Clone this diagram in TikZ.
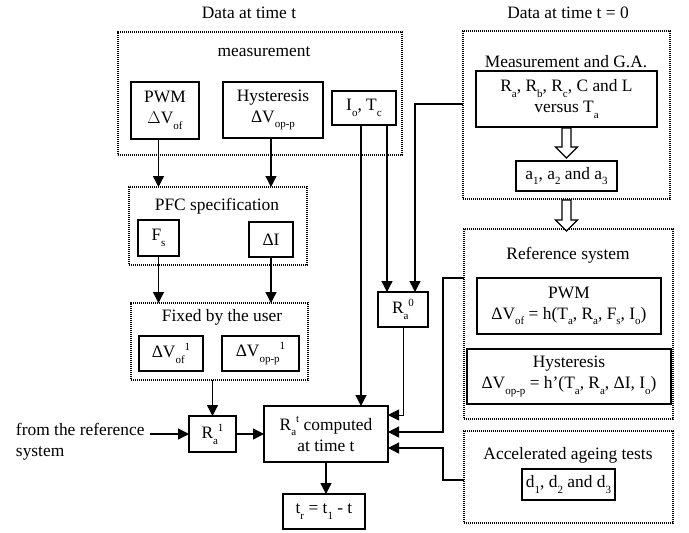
\documentclass[tikz,border=0pt]{standalone}
\usepackage{fontspec}
\setmainfont{Liberation Serif}
\usetikzlibrary{arrows.meta,calc}
\newcommand\dn[1]{\raisebox{-0.32em}{\fontsize{11}{11}\selectfont #1}}
\newcommand\up[1]{\raisebox{0.42em}{\fontsize{11}{11}\selectfont #1}}
\newcommand\hollowarrow[3]{%
  \draw[hollow] ({#1-4.5},{#2}) -- ({#1+4.5},{#2}) -- ({#1+4.5},{#3-11}) -- ({#1+11},{#3-11})
    -- ({#1},{#3}) -- ({#1-11},{#3-11}) -- ({#1-4.5},{#3-11}) -- cycle;}
\begin{document}
\begin{tikzpicture}[x=1pt,y=-1pt,
  every node/.style={font=\fontsize{17.4}{21}\selectfont, inner sep=0pt, outer sep=0pt},
  box/.style={draw, line width=1.3pt, align=center},
  grp/.style={draw, line width=1.3pt, dash pattern=on 1.1pt off 0.9pt},
  lbl/.style={align=center},
  arr/.style={line width=1.3pt, -{Triangle[length=11pt,width=11pt]}},
  tharr/.style={line width=0.9pt, -{Triangle[length=11pt,width=11pt]}},
  hollow/.style={draw, line width=1.1pt, fill=white, line join=miter}]
\useasboundingbox (0,0) rectangle (689,533);

% titles
\node[lbl] (t1) at (249,13) {Data at time t};
\node[lbl] (t2) at (568,13) {Data at time t = 0};

% left groups
\node[grp, minimum width=284pt, minimum height=123pt] (meas) at (260,93.5) {};
\node[lbl] (measlbl) at (264,52) {measurement};
\node[box, minimum width=68pt, minimum height=57pt] (pwm) at (165,110.5) {PWM\\$\Delta$V\dn{of}};
\node[box, minimum width=100pt, minimum height=56pt] (hyst) at (273,110) {Hysteresis\\ΔV\dn{op-p}};
\node[box, minimum width=64pt, minimum height=34pt] (iotc) at (364,108) {I\dn{o}, T\dn{c}};

\node[grp, minimum width=178pt, minimum height=78pt] (pfc) at (218,226) {};
\node[lbl] (pfclbl) at (217,206) {PFC specification};
\node[box, minimum width=41pt, minimum height=36pt] (fs) at (158.5,238) {F\dn{s}};
\node[box, minimum width=44pt, minimum height=35pt] (dI) at (271,239.5) {ΔI};

\node[grp, minimum width=177pt, minimum height=77pt] (fixed) at (219.5,341.5) {};
\node[lbl] (fixedlbl) at (222,317) {Fixed by the user};
\node[box, minimum width=64pt, minimum height=35pt] (v1) at (171,353.5) {ΔV\dn{of}\up{1}};
\node[box, minimum width=77pt, minimum height=35pt] (v2) at (260.5,353.5) {ΔV\dn{op-p}\up{1}};

\node[box, minimum width=47pt, minimum height=36pt] (ra1) at (212.5,434) {R\dn{a}\up{1}};
\node[lbl, anchor=west, align=left] (fromref) at (16,442) {from the reference\\system};
\node[box, minimum width=124pt, minimum height=56pt] (rat) at (326,434) {R\dn{a}\up{t} computed\\at time t};
\node[box, minimum width=82pt, minimum height=35pt] (tr) at (324,511.5) {t\dn{r} = t\dn{1} - t};
\node[box, minimum width=50pt, minimum height=35pt] (ra0) at (403,309.5) {R\dn{a}\up{0}};

% right groups
\node[grp, minimum width=207pt, minimum height=168pt] (mga) at (566.5,115) {};
\node[lbl] (mgalbl) at (566,62) {Measurement and G.A.};
\node[box, minimum width=181pt, minimum height=56pt] (rarb) at (566.5,99) {R\dn{a}, R\dn{b}, R\dn{c}, C and L\\versus T\dn{a}};
\node[box, minimum width=101pt, minimum height=30pt] (abox) at (566.5,176) {a\dn{1}, a\dn{2} and a\dn{3}};

\node[grp, minimum width=209pt, minimum height=190pt] (ref) at (568.5,324) {};
\node[lbl] (reflbl) at (568,255) {Reference system};
\node[box, minimum width=184pt, minimum height=56pt] (pwm2) at (569,306) {PWM\\ΔV\dn{of} = h(T\dn{a}, R\dn{a}, F\dn{s}, I\dn{o})};
\node[box, minimum width=204pt, minimum height=55pt] (hyst2) at (569,376.5) {Hysteresis\\ΔV\dn{op-p} = h’(T\dn{a}, R\dn{a}, ΔI, I\dn{o})};

\node[grp, minimum width=209pt, minimum height=92pt] (acc) at (568.5,477) {};
\node[lbl] (acclbl) at (568,455) {Accelerated ageing tests};
\node[box, minimum width=93pt, minimum height=31pt] (dbox) at (568.5,484.5) {d\dn{1}, d\dn{2} and d\dn{3}};

% hollow arrows
\hollowarrow{566.5}{128}{158}
\hollowarrow{566.5}{200}{231}

% connectors
\draw[arr] (fs.north |- pwm.south) -- (fs.north |- pfc.north);
\draw[arr] (dI.north |- hyst.south) -- (dI.north |- pfc.north);
\draw[arr] (fs.south) -- (fs.south |- fixed.north);
\draw[arr] (dI.south) -- (dI.south |- fixed.north);
\draw[arr] (ra1.north |- fixed.south) -- (ra1.north);
\coordinate (fr) at ($(fromref.east)+(6,0)$);
\draw[arr] (fr |- ra1.west) -- (ra1.west);
\draw[arr] (ra1.east) -- (rat.west);
\draw[arr] (rat.south) -- (rat.south |- tr.north);
\coordinate (ia) at ($(iotc.south)+(-3,0)$);
\coordinate (ib) at ($(iotc.south)+(23,0)$);
\draw[arr] (ia) -- (ia |- rat.north);
\draw[arr] (ib) -- (ib |- ra0.north);
\coordinate (mg) at ($(mga.west |- rarb.center)+(0,5)$);
\draw[arr] (mg) -| ($(ra0.north)+(12,0)$);
\draw[tharr] (ra0.south) |- ($(rat.east)+(0,-19)$);
\draw[arr] (ref.west |- pwm2.north) -- ++(-21,0) |- ($(rat.east)+(0,-2)$);
\draw[arr] ($(acc.west)+(0,3)$) -- ++(-21,0) |- ($(rat.east)+(0,14)$);
\end{tikzpicture}
\end{document}
